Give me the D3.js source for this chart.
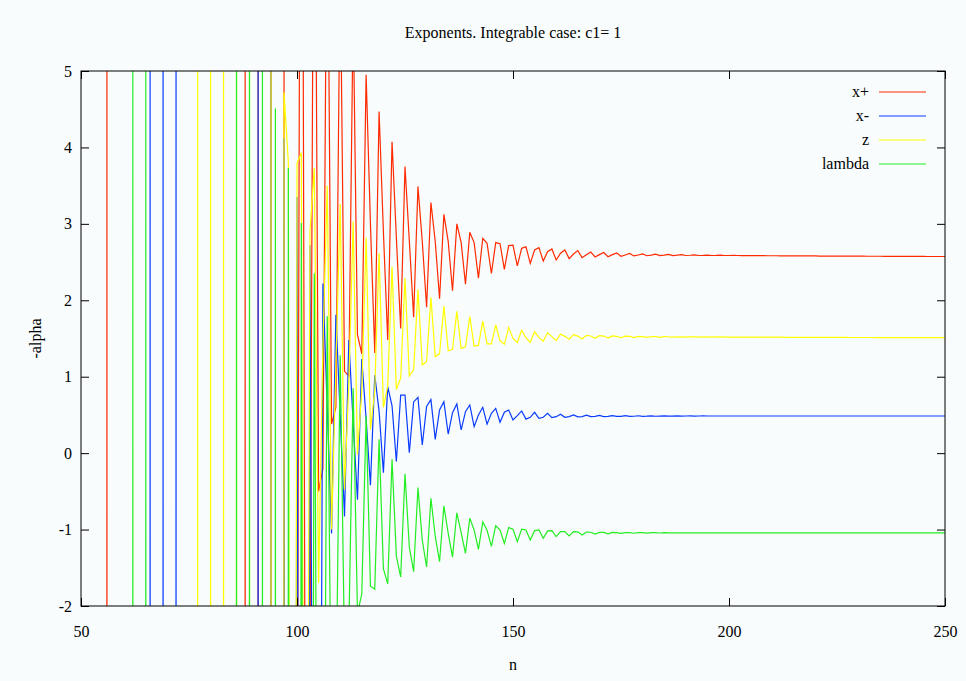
<!DOCTYPE html>
<html><head><meta charset="utf-8">
<script src="https://cdn.jsdelivr.net/npm/d3@7"></script>
<style>
html,body{margin:0;padding:0;background:#f8fcfc;}
svg{display:block;}
</style></head><body>
<svg id="chart" width="966" height="681"></svg>
<script>
// ---- data (one value per integer n, starting at n = 50) ----
const nStart = 50;
const xPlus = [
-1000,-1000,-1000,-1000,-1000,-1000,5.5,-1000,-1000,-1000,
-1000,-1000,-1000,-1000,-1000,-1000,-1000,-1000,-1000,-1000,
-1000,-1000,-1000,-1000,-1000,-1000,-1000,-1000,-1000,-1000,
-1000,-1000,-1000,-1000,-1000,-1000,-1000,-1000,5.5,-1000,
-1000,5.5,-1000,-1000,5.5,-1000,-1000,5.5,-300,-60,
-6,14,-6,-3,10,-0.5,-0.2,8,0.38,0.6,
6.5,1.07,1.01,5.8,1.55,1.3,4.95,3.0,1.31,4.47,
2.9,1.48,4.075,2.82,1.63,3.75,2.78,1.78,3.49,2.77,
1.91,3.28,2.77,2.02,3.125,2.77,2.125,3.0,2.755,2.21,
2.89,2.755,2.29,2.81,2.745,2.35,2.755,2.74,2.405,2.715,
2.72,2.449,2.68,2.70,2.484,2.658,2.689,2.514,2.636,2.671,
2.527,2.615,2.658,2.545,2.606,2.65,2.558,2.597,2.632,2.567,
2.597,2.625,2.57,2.597,2.62,2.575,2.593,2.612,2.58,2.593,
2.607,2.583,2.592,2.603,2.584,2.591,2.6,2.585,2.59,2.597,
2.586,2.589,2.594,2.586,2.588,2.592,2.586,2.587,2.59,2.586,
2.586,2.588,2.586,2.585,2.585,2.585,2.584,2.584,2.584,2.583,
2.583,2.583,2.582,2.582,2.582,2.581,2.581,2.581,2.580,2.580,
2.580,2.579,2.579,2.579,2.578,2.578,2.578,2.578,2.577,2.577,
2.577,2.577,2.576,2.576,2.576,2.576,2.575,2.575,2.575,2.575,
2.575,2.574,2.574,2.574,2.574,2.574,2.573,2.573,2.573,2.573,
2.573];
const xMinus = [
-1000,-1000,-1000,-1000,-1000,-1000,-1000,-1000,-1000,-1000,
-1000,-1000,-1000,-1000,-1000,-1000,5.5,-1000,-1000,5.5,
-1000,-1000,5.5,-1000,-1000,-1000,-1000,-1000,-1000,-1000,
-1000,-1000,-1000,-1000,-1000,-1000,-1000,-1000,-1000,-1000,
-1000,5.5,-1000,-1000,5.5,-1000,-200,4.12,-100,-40,
3.35,-25,-30,2.72,-10,-12,2.22,0.6,-1.05,1.81,
0.5,-0.83,1.48,0.4,-0.61,1.23,0.45,-0.42,1.02,0.55,
-0.255,0.87,0.62,-0.11,0.76,0.76,0.007,0.67,0.73,0.107,
0.61,0.70,0.18,0.565,0.674,0.25,0.53,0.643,0.303,0.543,
0.63,0.347,0.50,0.60,0.38,0.52,0.586,0.405,0.535,0.565,
0.434,0.49,0.552,0.445,0.468,0.534,0.456,0.47,0.521,0.464,
0.477,0.508,0.469,0.478,0.499,0.474,0.479,0.496,0.477,0.48,
0.493,0.479,0.481,0.491,0.48,0.482,0.49,0.481,0.483,0.489,
0.482,0.484,0.488,0.483,0.485,0.488,0.484,0.485,0.487,0.485,
0.486,0.487,0.485,0.486,0.487,0.486,0.486,0.486,0.486,0.486,
0.486,0.486,0.486,0.486,0.486,0.486,0.486,0.486,0.486,0.486,
0.486,0.486,0.486,0.486,0.486,0.486,0.486,0.486,0.486,0.486,
0.486,0.486,0.486,0.486,0.486,0.486,0.486,0.486,0.486,0.486,
0.486,0.486,0.486,0.486,0.486,0.486,0.486,0.486,0.486,0.486,
0.486,0.486,0.486,0.486,0.486,0.486,0.486,0.486,0.486,0.486,
0.486];
const zVals = [
-1000,-1000,-1000,-1000,-1000,-1000,-1000,-1000,-1000,-1000,
-1000,-1000,-1000,-1000,-1000,-1000,-1000,-1000,-1000,-1000,
-1000,-1000,-1000,-1000,-1000,-1000,-1000,5.5,-1000,-1000,
5.5,-1000,-1000,5.5,-1000,-1000,5.5,-1000,-1000,5.5,
-1000,-1000,-1000,-1000,5.5,-1000,-300,4.72,3.8,-30,
3.79,3.93,-12,2.9,3.73,-1.70,1.42,3.5,-1.0,1.13,
3.26,-0.48,0.92,3.03,-0.02,0.83,2.82,0.31,0.82,2.62,
0.60,0.88,2.44,0.835,0.98,2.29,1.01,1.09,2.144,1.154,
1.20,2.04,1.263,1.30,1.925,1.34,1.36,1.857,1.37,1.39,
1.786,1.40,1.41,1.727,1.43,1.43,1.677,1.47,1.424,1.642,
1.50,1.446,1.61,1.51,1.45,1.59,1.515,1.463,1.577,1.525,
1.472,1.559,1.528,1.49,1.55,1.532,1.494,1.542,1.533,1.502,
1.537,1.532,1.505,1.533,1.528,1.51,1.53,1.527,1.513,1.528,
1.525,1.515,1.526,1.524,1.516,1.525,1.523,1.517,1.523,1.522,
1.518,1.522,1.521,1.519,1.521,1.52,1.519,1.52,1.52,1.519,
1.519,1.519,1.519,1.519,1.518,1.518,1.518,1.518,1.518,1.517,
1.517,1.517,1.517,1.516,1.516,1.516,1.516,1.516,1.515,1.515,
1.515,1.515,1.515,1.514,1.514,1.514,1.514,1.514,1.513,1.513,
1.513,1.513,1.513,1.513,1.512,1.512,1.512,1.512,1.512,1.512,
1.512,1.511,1.511,1.511,1.511,1.511,1.511,1.511,1.511,1.511,
1.511];
const lambdaVals = [
-1000,-1000,-1000,-1000,-1000,-1000,-1000,-1000,-1000,-1000,
-1000,-1000,5.5,-1000,-1000,5.5,-1000,-1000,-1000,-1000,
-1000,-1000,-1000,-1000,-1000,-1000,-1000,-1000,-1000,-1000,
-1000,-1000,-1000,-1000,-1000,-1000,5.5,-1000,-1000,5.5,
-1000,-1000,5.5,-1000,-1000,4.51,-400,-300,3.73,-80,
-60,3.01,-25,-20,2.35,-9,-8,1.79,-4,-3.5,
1.28,-2.6,-2.3,0.85,-2.1,-1.84,0.49,-1.74,-1.78,0.18,
-1.51,-1.71,-0.08,-1.35,-1.62,-0.27,-1.23,-1.55,-0.45,-1.14,
-1.49,-0.59,-1.09,-1.42,-0.69,-1.05,-1.36,-0.78,-1.04,-1.31,
-0.85,-1.005,-1.26,-0.90,-1.01,-1.22,-0.95,-1.005,-1.18,-0.975,
-0.996,-1.158,-0.996,-1.005,-1.136,-1.014,-1.005,-1.114,-1.018,-1.014,
-1.092,-1.027,-1.027,-1.083,-1.027,-1.03,-1.07,-1.033,-1.035,-1.06,
-1.036,-1.037,-1.055,-1.038,-1.039,-1.05,-1.039,-1.04,-1.048,-1.04,
-1.041,-1.046,-1.041,-1.041,-1.045,-1.041,-1.042,-1.044,-1.042,-1.042,
-1.043,-1.042,-1.042,-1.043,-1.042,-1.042,-1.042,-1.042,-1.042,-1.042,
-1.042,-1.042,-1.042,-1.042,-1.042,-1.042,-1.042,-1.042,-1.042,-1.042,
-1.042,-1.042,-1.042,-1.042,-1.043,-1.043,-1.043,-1.043,-1.043,-1.043,
-1.043,-1.043,-1.043,-1.043,-1.043,-1.043,-1.043,-1.043,-1.043,-1.043,
-1.043,-1.043,-1.043,-1.043,-1.044,-1.044,-1.044,-1.044,-1.044,-1.044,
-1.044,-1.044,-1.044,-1.044,-1.044,-1.044,-1.044,-1.044,-1.044,-1.044,
-1.044];
const seriesNames = ["x+", "x-", "z", "lambda"];
const xTicks = [50, 100, 150, 200, 250];
const yTicks = [-2, -1, 0, 1, 2, 3, 4, 5];
const titleText = "Exponents. Integrable case: c1= 1";
const xLabel = "n";
const yLabel = "-alpha";

// ---- layout / style ----
const W = 966, H = 681;
const M = {left: 81, right: 945, top: 71, bottom: 606};
const colors = ["#ff2a00", "#0a3cff", "#ffff00", "#22ee22"];
const FONT = "'Liberation Serif','Times New Roman',Times,serif";
const FS = 16;

const svg = d3.select("#chart");
svg.append("rect").attr("width", W).attr("height", H).attr("fill", "#f8fcfc");

const x = d3.scaleLinear().domain([50, 250]).range([M.left, M.right]);
const y = d3.scaleLinear().domain([-2, 5]).range([M.bottom, M.top]);

svg.append("clipPath").attr("id", "plotclip")
  .append("rect").attr("x", M.left).attr("y", M.top)
  .attr("width", M.right - M.left).attr("height", M.bottom - M.top);

const series = [xPlus, xMinus, zVals, lambdaVals].map((vals, k) => ({
  name: seriesNames[k], color: colors[k],
  pts: vals.map((v, i) => [nStart + i, v])
}));

const line = d3.line().x(d => x(d[0])).y(d => y(d[1]));

svg.append("g").attr("clip-path", "url(#plotclip)")
  .selectAll("path").data(series).join("path")
  .attr("d", d => line(d.pts))
  .attr("fill", "none")
  .attr("stroke", d => d.color)
  .attr("stroke-width", 1.2)
  .attr("stroke-linejoin", "miter");

function styleAxis(g) {
  g.attr("font-family", FONT).attr("font-size", FS);
  g.select(".domain").remove();
  g.selectAll(".tick line").attr("stroke", "#000");
  g.selectAll(".tick text").attr("fill", "#000");
}
const fmt = d => String(d);

svg.append("g").attr("transform", `translate(${M.left},0)`)
  .call(d3.axisLeft(y).tickValues(yTicks).tickSizeInner(-8).tickSizeOuter(0).tickPadding(9).tickFormat(fmt))
  .call(styleAxis);
svg.append("g").attr("transform", `translate(${M.right},0)`)
  .call(d3.axisRight(y).tickValues(yTicks).tickSizeInner(-8).tickSizeOuter(0).tickFormat(""))
  .call(styleAxis);
svg.append("g").attr("transform", `translate(0,${M.bottom})`)
  .call(d3.axisBottom(x).tickValues(xTicks).tickSizeInner(-8).tickSizeOuter(0).tickPadding(20).tickFormat(fmt))
  .call(styleAxis);
svg.append("g").attr("transform", `translate(0,${M.top})`)
  .call(d3.axisTop(x).tickValues(xTicks).tickSizeInner(-8).tickSizeOuter(0).tickFormat(""))
  .call(styleAxis);

svg.append("rect").attr("x", M.left).attr("y", M.top)
  .attr("width", M.right - M.left).attr("height", M.bottom - M.top)
  .attr("fill", "none").attr("stroke", "#000").attr("stroke-width", 1);

// title & labels
svg.append("text").attr("x", (M.left + M.right) / 2).attr("y", 38)
  .attr("text-anchor", "middle").attr("font-family", FONT).attr("font-size", FS)
  .text(titleText);
svg.append("text").attr("x", (M.left + M.right) / 2).attr("y", 670)
  .attr("text-anchor", "middle").attr("font-family", FONT).attr("font-size", FS)
  .text(xLabel);
svg.append("text").attr("transform", `translate(41,${(M.top + M.bottom) / 2}) rotate(-90)`)
  .attr("text-anchor", "middle").attr("font-family", FONT).attr("font-size", FS)
  .text(yLabel);

// legend
const leg = svg.append("g");
series.forEach((s, k) => {
  const ly = 92 + k * 24;
  leg.append("text").attr("x", 869).attr("y", ly).attr("dy", "0.33em")
    .attr("text-anchor", "end").attr("font-family", FONT).attr("font-size", FS)
    .text(s.name);
  leg.append("line").attr("x1", 879).attr("x2", 926).attr("y1", ly).attr("y2", ly)
    .attr("stroke", s.color).attr("stroke-width", 1.2);
});
</script>
</body></html>
